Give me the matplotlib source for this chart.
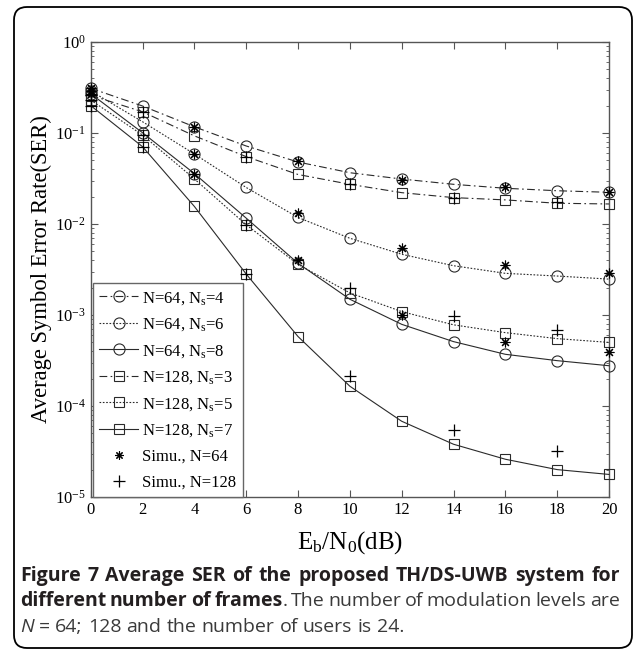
import matplotlib
matplotlib.use('Agg')
import matplotlib.pyplot as plt
from matplotlib.patches import FancyBboxPatch
from matplotlib.lines import Line2D
from matplotlib.transforms import IdentityTransform

# ---------------- data ----------------
snr = [0, 2, 4, 6, 8, 10, 12, 14, 16, 18, 20]

n64_ns4 = [0.31, 0.198, 0.117, 0.072, 0.048, 0.0366, 0.0312, 0.0273, 0.0247, 0.0232, 0.0223]
n64_ns6 = [0.29, 0.133, 0.0588, 0.0252, 0.0118, 0.00697, 0.00465, 0.00348, 0.00287, 0.00268, 0.00248]
n64_ns8 = [0.27, 0.1007, 0.0358, 0.0116, 0.0037, 0.00149, 0.00079, 0.00051, 0.00037, 0.000315, 0.000277]
n128_ns3 = [0.26, 0.171, 0.093, 0.055, 0.035, 0.0273, 0.0221, 0.0195, 0.0184, 0.0169, 0.0166]
n128_ns5 = [0.23, 0.095, 0.0313, 0.0098, 0.0036, 0.00175, 0.00109, 0.00078, 0.00064, 0.00055, 0.0005]
n128_ns7 = [0.20, 0.0707, 0.0156, 0.00282, 0.00058, 0.000165, 6.8e-5, 3.8e-5, 2.6e-5, 2.0e-5, 1.77e-5]

sim64_snr = [0, 4, 8, 12, 16, 20]
sim64_ns4 = [0.31, 0.117, 0.049, 0.0305, 0.0258, 0.0226]
sim64_ns6 = [0.29, 0.0588, 0.0131, 0.0054, 0.00355, 0.00287]
sim64_ns8 = [0.27, 0.0358, 0.0040, 0.00100, 0.00051, 0.00039]

sim128_snr = [0, 2, 6, 10, 14, 18]
sim128_ns3 = [0.26, 0.171, 0.055, 0.0273, 0.0195, 0.0176]
sim128_ns5 = [0.23, 0.095, 0.0098, 0.0020, 0.00098, 0.00068]
sim128_ns7 = [0.20, 0.0707, 0.00282, 0.000214, 5.4e-5, 3.2e-5]

labels = ["N=64, N$_\\mathrm{s}$=4", "N=64, N$_\\mathrm{s}$=6", "N=64, N$_\\mathrm{s}$=8",
          "N=128, N$_\\mathrm{s}$=3", "N=128, N$_\\mathrm{s}$=5", "N=128, N$_\\mathrm{s}$=7"]
sim_labels = ["Simu., N=64", "Simu., N=128"]
xticks = [0, 2, 4, 6, 8, 10, 12, 14, 16, 18, 20]

# ---------------- style ----------------
plt.rcParams['font.family'] = ['Liberation Serif', 'DejaVu Serif']
plt.rcParams['mathtext.fontset'] = 'custom'
plt.rcParams['mathtext.rm'] = 'Liberation Serif'
plt.rcParams['mathtext.it'] = 'Liberation Serif:italic'
plt.rcParams['mathtext.bf'] = 'Liberation Serif:bold'

W, H = 636, 651
fig = plt.figure(figsize=(W / 100, H / 100), dpi=100)

# rounded frame
frame = FancyBboxPatch((14, 3), 618, 641, boxstyle="round,pad=0,rounding_size=13",
                       transform=IdentityTransform(), fill=False, ec='black', lw=1.3)
fig.patches.append(frame)

ax_l, ax_r, ax_t, ax_b = 90.7, 609, 42, 497
ax = fig.add_axes([ax_l / W, 1 - ax_b / H, (ax_r - ax_l) / W, (ax_b - ax_t) / H])

lc = '#2a2a2a'
dashdot = (0, (7, 3, 1.5, 3))
dotted = (0, (1.5, 1.5))
styles = [(n64_ns4, dashdot, 'o'), (n64_ns6, dotted, 'o'), (n64_ns8, '-', 'o'),
          (n128_ns3, dashdot, 's'), (n128_ns5, dotted, 's'), (n128_ns7, '-', 's')]

handles = []
for (vals, ls, mk), lab in zip(styles, labels):
    ms = 8 if mk == 'o' else 7
    ax.plot(snr, vals, color=lc, lw=0.8, ls=ls, marker=mk, ms=ms, mfc='none',
            mec=lc, mew=0.8, clip_on=False, zorder=3)
    handles.append(Line2D([], [], color=lc, lw=0.8, ls=ls, marker=mk, ms=ms,
                          mfc='none', mec=lc, mew=0.8))

ast = (8, 2, 0)
for vals in (sim64_ns4, sim64_ns6, sim64_ns8):
    ax.plot(sim64_snr, vals, ls='none', marker=ast, ms=7, color='black', mew=0.8,
            clip_on=False, zorder=4)
for vals in (sim128_ns3, sim128_ns5, sim128_ns7):
    ax.plot(sim128_snr, vals, ls='none', marker='+', ms=9, color='black', mew=0.9,
            clip_on=False, zorder=4)
handles.append(Line2D([], [], ls='none', marker=ast, ms=6, color='black', mew=0.8))
handles.append(Line2D([], [], ls='none', marker='+', ms=8, color='black', mew=0.9))

ax.set_yscale('log')
ax.set_xlim(0, 20)
ax.set_ylim(1e-5, 1)
ax.set_xticks(xticks)
ax.set_xticklabels([str(v) for v in xticks])

spc = '#555555'
for s in ax.spines.values():
    s.set_color(spc)
    s.set_linewidth(1.0)
ax.tick_params(which='both', direction='in', top=True, right=True, colors=spc,
               labelcolor='black', labelsize=12)
ax.tick_params(which='major', length=5, width=0.8, pad=3.5)
ax.tick_params(which='minor', length=2.5, width=0.6)

ax.set_xlabel("E$_\\mathrm{b}$/N$_\\mathrm{0}$(dB)", fontsize=18, labelpad=8)
ax.set_ylabel("Average Symbol Error Rate(SER)", fontsize=16.3, labelpad=2)

leg = ax.legend(handles=handles, labels=labels + sim_labels, loc='lower left',
                bbox_to_anchor=(0.004, 0.0), borderaxespad=0, fontsize=12,
                handlelength=2.3, handletextpad=0.25, labelspacing=0.58,
                fancybox=False, framealpha=1, edgecolor='#666666',
                borderpad=0.4)
leg.get_frame().set_linewidth(1.0)

# ---------------- caption ----------------
cap_font = ['Open Sans', 'DejaVu Sans']
cap_size = 14.0
dark = '#231f20'
grey = '#3a3a3a'
x0, x1 = 20, 620
fig.canvas.draw()
renderer = fig.canvas.get_renderer()


def make(s, color, **kw):
    return fig.text(0, 0, s, family=cap_font, fontsize=cap_size, color=color,
                    va='baseline', ha='left', **kw)


def width(s, **kw):
    t = make(s, dark, **kw)
    w = t.get_window_extent(renderer).width
    t.remove()
    return w


def space_w(**kw):
    return width("x x", **kw) - width("xx", **kw)


def line(y, tokens, justify):
    # tokens: (text, gap_before, color, kw)
    arts = [make(t, c, **kw) for t, g, c, kw in tokens]
    widths = [a.get_window_extent(renderer).width for a in arts]
    gaps = [space_w(**kw) if g else 0.0 for t, g, c, kw in tokens]
    total = sum(widths) + sum(gaps)
    ngaps = sum(1 for t in tokens if t[1])
    extra = (x1 - x0 - total) / ngaps if (justify and ngaps) else 0.0
    x = x0
    for a, w, gp, t in zip(arts, widths, gaps, tokens):
        if t[1]:
            x += gp + extra
        a.set_position((x / W, 1 - y / H))
        x += w


B = dict(weight='bold')
R = dict()
l1 = "Figure 7 Average SER of the proposed TH/DS-UWB system for".split()
line(581, [(w, i > 0, dark, B) for i, w in enumerate(l1)], True)
l2b = "different number of frames".split()
l2r = "The number of modulation levels are".split()
toks = [(w, i > 0, dark, B) for i, w in enumerate(l2b)]
toks.append((".", False, grey, R))
toks += [(w, True, grey, R) for w in l2r]
line(606, toks, True)
l3 = "= 64; 128 and the number of users is 24.".split()
toks = [("N", False, grey, dict(style='italic'))] + [(w, True, grey, R) for w in l3]
line(632, toks, False)

fig.savefig('out.png', dpi=100)
